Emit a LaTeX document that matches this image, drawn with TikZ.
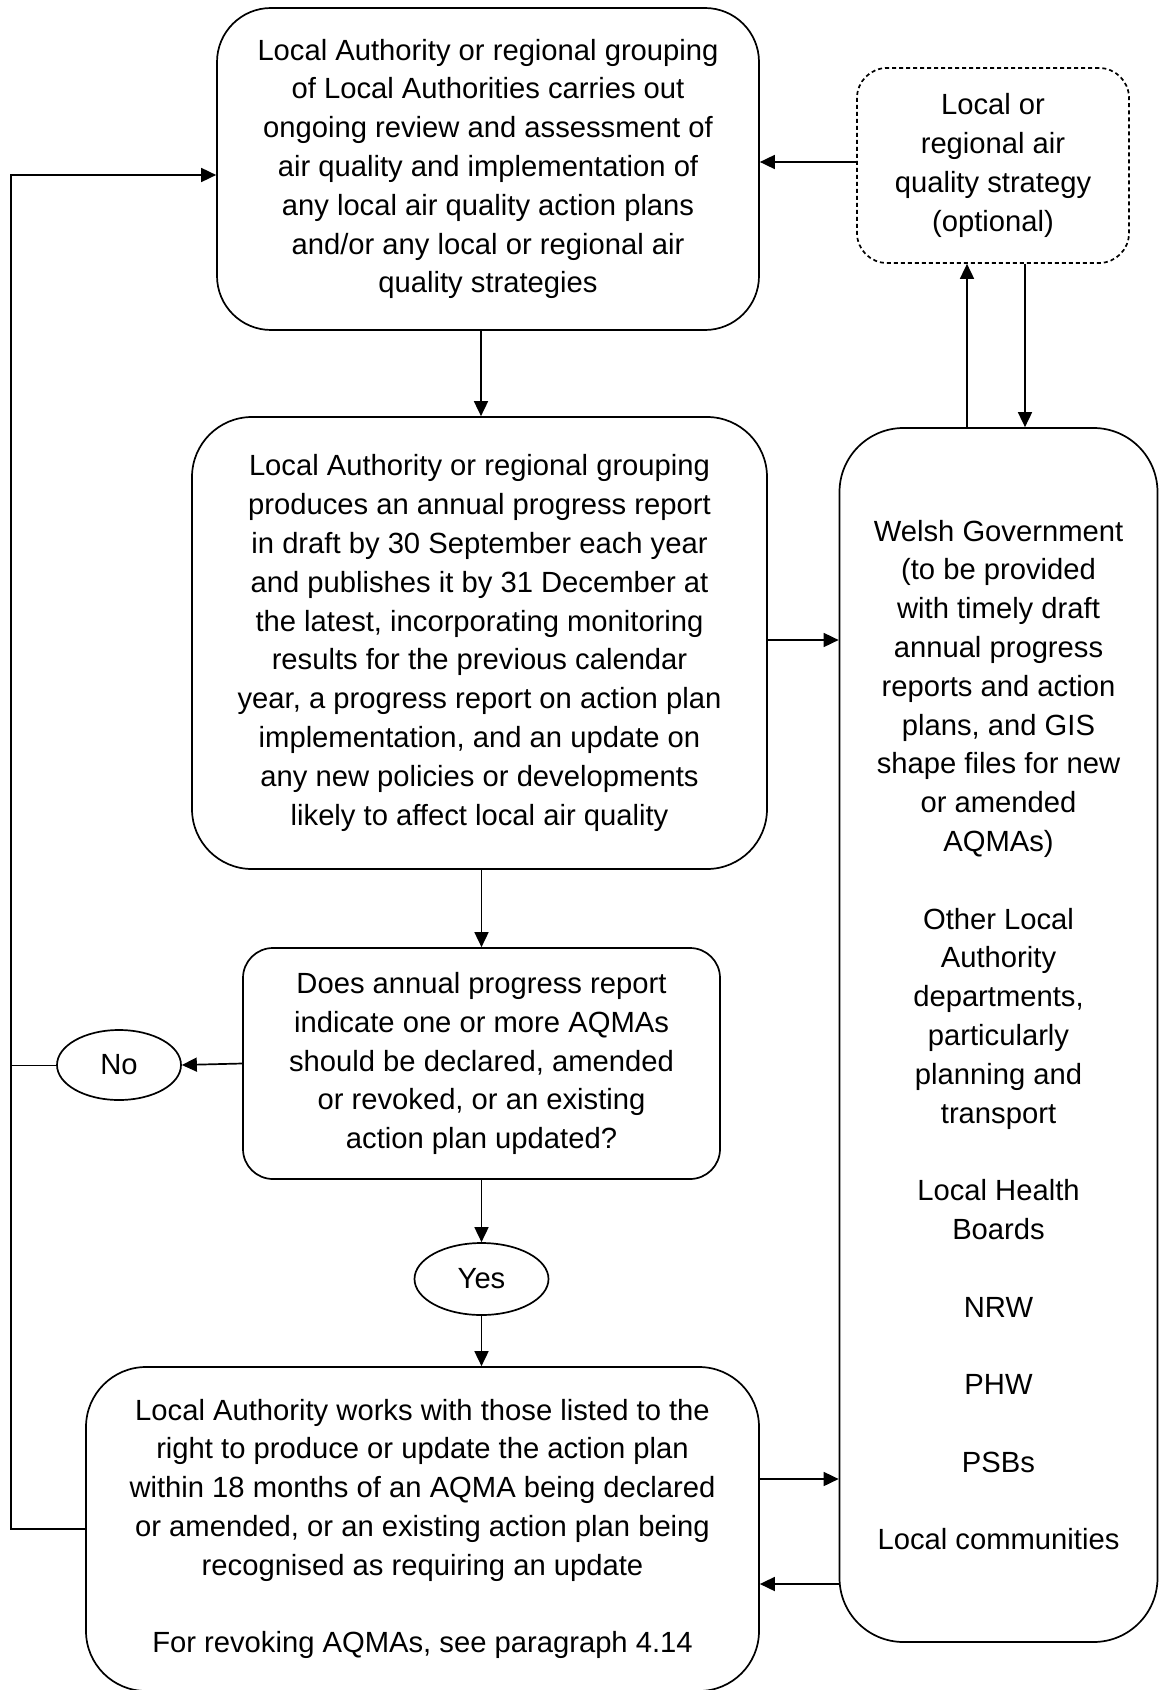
\documentclass[tikz,border=0pt]{standalone}
\usepackage{fontspec}
\setmainfont{Liberation Sans}
\usetikzlibrary{arrows.meta,shapes.geometric}

\begin{document}
\begin{tikzpicture}[
  x=0.5pt, y=-0.5pt,
  every node/.style={font=\fontsize{14.6}{19.4}\selectfont, align=center, inner sep=0pt},
  box/.style={draw, line width=0.85pt, rounded corners=#1},
  box/.default=27pt,
  opt/.style={dash pattern=on 2pt off 1.5pt},
  answer/.style={draw, ellipse, line width=0.85pt},
  arr/.style={-{Triangle[length=7.5pt,width=7pt]}, line width=0.85pt}
  ]
  \useasboundingbox (0,0) rectangle (1159,1690);

  % main column
  \node[box, minimum width=271pt, minimum height=161pt] (review) at (488,169)
    {Local Authority or regional grouping\\of Local Authorities carries out\\ongoing review and assessment of\\air quality and implementation of\\any local air quality action plans\\and/or any local or regional air\\quality strategies};
  \node[box=30pt, minimum width=287.5pt, minimum height=226pt] (report) at (479.5,643)
    {Local Authority or regional grouping\\produces an annual progress report\\in draft by 30 September each year\\and publishes it by 31 December at\\the latest, incorporating monitoring\\results for the previous calendar\\year, a progress report on action plan\\implementation, and an update on\\any new policies or developments\\likely to affect local air quality};
  \node[box=15pt, minimum width=238.5pt, minimum height=115.5pt] (check) at (481.5,1063.5)
    {Does annual progress report\\indicate one or more AQMAs\\should be declared, amended\\or revoked, or an existing\\action plan updated?};
  \node[answer, minimum width=62pt, minimum height=35pt] (no) at (119,1065) {No};
  \node[answer, minimum width=67pt, minimum height=36pt] (yes) at (481.5,1279) {Yes};
  \node[box=30pt, minimum width=336.5pt, minimum height=162pt] (plan) at (422.5,1529)
    {Local Authority works with those listed to the\\right to produce or update the action plan\\within 18 months of an AQMA being declared\\or amended, or an existing action plan being\\recognised as requiring an update\\[19.4pt]For revoking AQMAs, see paragraph 4.14};

  % right column
  \node[box=15pt, opt, minimum width=136pt, minimum height=97.5pt] (strategy) at (993,165.5)
    {Local or\\regional air\\quality strategy\\(optional)};
  \node[box=32pt, minimum width=159pt, minimum height=607pt] (partners) at (998.5,1035)
    {Welsh Government\\(to be provided\\with timely draft\\annual progress\\reports and action\\plans, and GIS\\shape files for new\\or amended\\AQMAs)\\[19.4pt]Other Local\\Authority\\departments,\\particularly\\planning and\\transport\\[19.4pt]Local Health\\Boards\\[19.4pt]NRW\\[19.4pt]PHW\\[19.4pt]PSBs\\[19.4pt]Local communities};

  \coordinate (loop) at (11,175);

  % down the column
  \draw[arr] (481,0 |- review.south) -- (481,0 |- report.north);
  \draw[arr] (report.south -| check.north) -- (check.north);
  \draw[arr] (check.south) -- (yes.north);
  \draw[arr] (yes.south) -- (yes.south |- plan.north);
  % no: back to the top
  \draw[arr] (check.west) -- (no.east);
  \draw (no.west) -- (no.west -| loop);
  \draw[arr] (plan.west) -| (loop) -- (loop -| review.west);
  % to and from the right
  \draw[arr] (strategy.west |- 0,162) -- (review.east |- 0,162);
  \draw[arr] (967,0 |- partners.north) -- (967,0 |- strategy.south);
  \draw[arr] (1025,0 |- strategy.south) -- (1025,0 |- partners.north);
  \draw[arr] (report.east |- 0,640) -- (partners.west |- 0,640);
  \draw[arr] (plan.east |- 0,1479) -- (partners.west |- 0,1479);
  \draw[arr] (partners.west |- 0,1584) -- (plan.east |- 0,1584);
\end{tikzpicture}
\end{document}
